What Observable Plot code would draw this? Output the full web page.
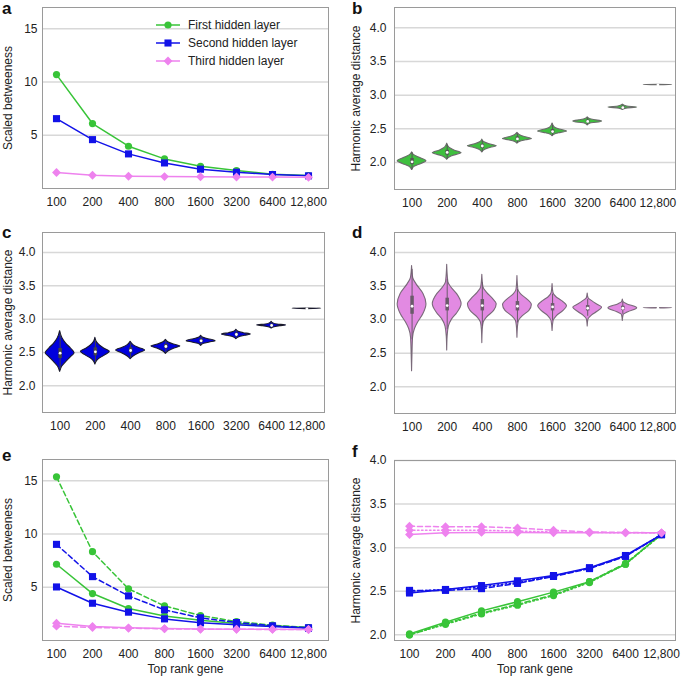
<!DOCTYPE html>
<html><head><meta charset="utf-8">
<script src="https://cdn.jsdelivr.net/npm/d3@7"></script>
<script src="https://cdn.jsdelivr.net/npm/@observablehq/plot@0.6"></script>
<style>
body{margin:0;background:#fff;font-family:"Liberation Sans",Arial,sans-serif;}
#fig{position:relative;width:681px;height:676px;overflow:hidden;background:#fff}
.panel{position:absolute}
.plet{position:absolute;font-weight:bold;font-size:17px;line-height:1;color:#111}
#legend{position:absolute;left:155px;top:16px;font-size:12px;color:#222}
#legend div{height:18px;display:flex;align-items:center}
#legend svg{margin-right:7px}
</style></head><body><div id="fig"></div>
<script>
// ---------- data ----------
const ranks = ["100","200","400","800","1600","3200","6400","12,800"];
const layers = ["First hidden layer","Second hidden layer","Third hidden layer"];

// panel a: scaled betweeness
const aFirst  = [10.7, 6.1, 3.97, 2.78, 2.09, 1.69, 1.34, 1.22];
const aSecond = [6.56, 4.59, 3.25, 2.40, 1.81, 1.53, 1.31, 1.19];
const aThird  = [1.50, 1.25, 1.15, 1.12, 1.10, 1.08, 1.07, 1.05];

// panel e: scaled betweeness (solid / dashed)
const eFirstSolid   = [7.16, 4.41, 3.00, 2.31, 1.90, 1.60, 1.38, 1.22];
const eFirstDashed  = [15.37, 8.34, 4.85, 3.25, 2.35, 1.78, 1.44, 1.22];
const eSecondSolid  = [5.03, 3.50, 2.66, 2.03, 1.66, 1.47, 1.31, 1.16];
const eSecondDashed = [9.03, 6.00, 4.19, 2.88, 2.13, 1.69, 1.38, 1.19];
const eThirdSolid   = [1.63, 1.31, 1.19, 1.12, 1.08, 1.06, 1.05, 1.03];
const eThirdDashed  = [1.35, 1.22, 1.15, 1.10, 1.06, 1.05, 1.04, 1.03];

// panel f: harmonic average distance (solid / dashed / dotted)
const fFirstSolid   = [2.01, 2.145, 2.275, 2.38, 2.49, 2.61, 2.81, 3.16];
const fFirstDashed  = [2.00, 2.13, 2.25, 2.35, 2.46, 2.61, 2.82, 3.15];
const fFirstDotted  = [2.00, 2.12, 2.24, 2.34, 2.45, 2.60, 2.81, 3.15];
const fSecondSolid  = [2.48, 2.52, 2.565, 2.62, 2.68, 2.77, 2.91, 3.15];
const fSecondDashed = [2.51, 2.51, 2.53, 2.59, 2.67, 2.76, 2.90, 3.15];
const fSecondDotted = [2.50, 2.52, 2.55, 2.60, 2.675, 2.765, 2.905, 3.15];
const fThirdSolid   = [3.15, 3.17, 3.175, 3.175, 3.17, 3.17, 3.17, 3.17];
const fThirdDashed  = [3.245, 3.24, 3.24, 3.225, 3.20, 3.18, 3.175, 3.17];
const fThirdDotted  = [3.20, 3.20, 3.20, 3.19, 3.18, 3.175, 3.17, 3.17];

// violin profiles: [value, relative density]
const bProfiles = [
  [[1.89,0],[1.94,0.2],[1.98,0.65],[2.02,1],[2.07,0.53],[2.11,0.15],[2.15,0]],
  [[2.04,0],[2.08,0.2],[2.11,0.6],[2.14,1],[2.18,0.5],[2.22,0.15],[2.28,0]],
  [[2.15,0],[2.19,0.2],[2.22,0.6],[2.24,1],[2.27,0.5],[2.30,0.15],[2.34,0]],
  [[2.28,0],[2.31,0.2],[2.33,0.6],[2.35,1],[2.38,0.5],[2.41,0.15],[2.44,0]],
  [[2.39,0],[2.42,0.2],[2.44,0.6],[2.46,1],[2.49,0.5],[2.52,0.15],[2.58,0]],
  [[2.55,0],[2.58,0.2],[2.59,0.6],[2.61,1],[2.63,0.45],[2.65,0.12],[2.67,0]],
  [[2.78,0],[2.80,0.25],[2.815,1],[2.83,0.3],[2.86,0]],
  [[3.146,0],[3.15,1],[3.154,0]]
];
const cProfiles = [
  [[2.21,0],[2.29,0.15],[2.36,0.43],[2.43,0.75],[2.49,1],[2.56,0.75],[2.63,0.43],[2.71,0.17],[2.82,0]],
  [[2.32,0],[2.36,0.08],[2.40,0.25],[2.46,0.7],[2.51,1],[2.56,0.6],[2.63,0.2],[2.67,0.07],[2.72,0]],
  [[2.40,0],[2.44,0.2],[2.49,0.6],[2.53,1],[2.57,0.55],[2.61,0.2],[2.66,0]],
  [[2.48,0],[2.52,0.2],[2.56,0.6],[2.59,1],[2.62,0.55],[2.65,0.2],[2.69,0]],
  [[2.60,0],[2.63,0.2],[2.65,0.6],[2.67,1],[2.70,0.5],[2.72,0.15],[2.75,0]],
  [[2.70,0],[2.73,0.2],[2.75,0.6],[2.77,1],[2.79,0.5],[2.81,0.15],[2.84,0]],
  [[2.86,0],[2.88,0.2],[2.895,0.6],[2.905,1],[2.92,0.4],[2.94,0.1],[2.96,0]],
  [[3.151,0],[3.155,1],[3.159,0]]
];
const dProfiles = [
  [[2.23,0],[2.50,0.03],[2.73,0.07],[2.86,0.2],[2.96,0.43],[3.08,0.78],[3.23,1],[3.38,0.8],[3.53,0.3],[3.62,0.08],[3.80,0]],
  [[2.54,0],[2.75,0.03],[2.90,0.12],[3.00,0.33],[3.10,0.71],[3.23,1],[3.38,0.69],[3.48,0.29],[3.56,0.08],[3.82,0]],
  [[2.65,0],[2.85,0.03],[2.96,0.1],[3.03,0.32],[3.13,0.82],[3.23,1],[3.30,0.78],[3.40,0.33],[3.48,0.08],[3.67,0]],
  [[2.73,0],[2.90,0.04],[2.98,0.1],[3.05,0.36],[3.13,0.83],[3.22,1],[3.30,0.7],[3.38,0.24],[3.45,0.06],[3.65,0]],
  [[2.83,0],[2.98,0.07],[3.05,0.29],[3.13,0.76],[3.20,1],[3.28,0.64],[3.33,0.29],[3.40,0.06],[3.53,0]],
  [[2.90,0],[3.00,0.05],[3.06,0.29],[3.11,0.63],[3.18,1],[3.23,0.63],[3.28,0.29],[3.32,0.06],[3.39,0]],
  [[2.98,0],[3.07,0.06],[3.11,0.38],[3.17,1],[3.23,0.29],[3.26,0.06],[3.30,0]],
  [[3.166,0],[3.17,1],[3.174,0]]
];
// inner boxes: [q1, median, q3, whisker low, whisker high]
const bBoxes = [[1.97,2.01,2.06,1.89,2.15],[2.11,2.15,2.18,2.05,2.26],[2.21,2.245,2.27,2.16,2.32],[2.33,2.35,2.38,2.29,2.42],
                [2.43,2.46,2.49,2.40,2.55],[2.59,2.61,2.63,2.56,2.66],[2.80,2.815,2.83,2.79,2.85],[3.148,3.15,3.152,3.146,3.154]];
const cBoxes = [[2.41,2.49,2.56,2.25,2.78],[2.45,2.51,2.57,2.35,2.68],[2.49,2.53,2.57,2.42,2.63],[2.56,2.59,2.62,2.50,2.67],
                [2.65,2.675,2.70,2.62,2.73],[2.75,2.77,2.79,2.72,2.82],[2.89,2.905,2.92,2.87,2.94],[3.153,3.155,3.157,3.151,3.159]];
const dBoxes = [[3.08,3.20,3.35,2.70,3.75],[3.13,3.21,3.32,2.85,3.60],[3.13,3.21,3.30,2.90,3.55],[3.13,3.20,3.27,2.95,3.45],
                [3.13,3.19,3.24,2.98,3.38],[3.13,3.17,3.21,3.05,3.30],[3.14,3.17,3.20,3.08,3.26],[3.165,3.17,3.175,3.166,3.174]];

const betweenTicks = [5, 10, 15];
const distTicks = [2.0, 2.5, 3.0, 3.5, 4.0];

// ---------- styling ----------
const COLORS = ["#38c438", "#1212e8", "#ee82ee"];
const SYMBOLS = ["circle", "square", "diamond2"];
const DOT_R = [3.6, 4.0, 4.0];
const DASH = {solid: null, dashed: "5,3", dotted: "1.5,2.5"};
const FONT = "'Liberation Sans', Arial, sans-serif";
const GRID = "#d8d8d8";
const FRAME = "#9a9a9a";
const fig = document.getElementById("fig");

function place(node, left, top) {
  const wrap = document.createElement("div");
  wrap.className = "panel";
  wrap.style.left = left + "px";
  wrap.style.top = top + "px";
  wrap.appendChild(node);
  fig.appendChild(wrap);
}
function letter(t, left, top) {
  const d = document.createElement("div");
  d.className = "plet"; d.textContent = t;
  d.style.left = left + "px"; d.style.top = top + "px";
  fig.appendChild(d);
}

function linePlot(cfg) {
  const rows = cfg.series.flatMap(([k, style, values]) =>
    values.map((v, i) => ({rank: ranks[i], layer: layers[k], k, style, v})));
  const marks = [
    Plot.gridY(cfg.yTicks, {stroke: GRID, strokeOpacity: 1, strokeWidth: 1.5}),
    Plot.frame({stroke: FRAME})
  ];
  for (const k of [0, 1, 2]) {
    for (const style of ["dotted", "dashed", "solid"]) {
      const sub = rows.filter(d => d.k === k && d.style === style);
      if (!sub.length) continue;
      marks.push(Plot.line(sub, {x: "rank", y: "v", stroke: "layer", strokeWidth: 1.5, strokeDasharray: DASH[style]}));
      marks.push(Plot.dot(sub, {x: "rank", y: "v", fill: "layer", symbol: "layer", r: DOT_R[k], stroke: "none"}));
    }
  }
  return Plot.plot({
    width: cfg.width, height: cfg.height,
    marginLeft: cfg.ml, marginRight: cfg.mr, marginTop: cfg.mt, marginBottom: cfg.mb,
    style: {fontFamily: FONT, fontSize: "12px", color: "#222", background: "white"},
    x: {type: "point", domain: ranks, padding: cfg.pad, align: cfg.align, tickSize: 0, tickPadding: 9, label: cfg.xlabel || null,
        labelAnchor: "center", labelOffset: 32, labelArrow: false},
    y: {domain: cfg.yDomain, ticks: cfg.yTicks, tickFormat: cfg.yFormat, tickSize: 0, tickPadding: cfg.tp,
        label: cfg.ylabel || null, labelAnchor: "center", labelOffset: cfg.lo, labelArrow: false},
    color: {domain: layers, range: COLORS},
    symbol: {domain: layers, range: SYMBOLS},
    marks
  });
}

const HALF = 0.41;
function violinPlot(cfg) {
  const rows = cfg.profiles.flatMap((p, i) => p.map(([v, w]) => ({i, v, w})));
  const boxes = cfg.boxes.map(([q1, med, q3, lo, hi], i) => ({i, q1, med, q3, lo, hi}));
  return Plot.plot({
    width: cfg.width, height: cfg.height,
    marginLeft: cfg.ml, marginRight: cfg.mr, marginTop: cfg.mt, marginBottom: cfg.mb,
    style: {fontFamily: FONT, fontSize: "12px", color: "#222", background: "white"},
    x: {domain: [-0.5, 7.5], ticks: ranks.map((_, i) => i), tickFormat: i => ranks[i], tickSize: 0, tickPadding: 9, label: null},
    y: {domain: [1.6, 4.3], ticks: distTicks, tickFormat: d3.format(".1f"), tickSize: 0, tickPadding: cfg.tp,
        label: cfg.ylabel || null, labelAnchor: "center", labelOffset: cfg.lo, labelArrow: false},
    marks: [
      Plot.gridY(distTicks, {stroke: GRID, strokeOpacity: 1, strokeWidth: 1.5}),
      Plot.frame({stroke: FRAME}),
      Plot.areaX(rows, {y: "v", x1: d => d.i - d.w * HALF, x2: d => d.i + d.w * HALF, z: "i",
        fill: cfg.fill, stroke: cfg.stroke, strokeWidth: 1.1, curve: "monotone-y"}),
      Plot.ruleX(boxes, {x: "i", y1: "lo", y2: "hi", stroke: cfg.box, strokeWidth: 1}),
      Plot.ruleX(boxes, {x: "i", y1: "q1", y2: "q3", stroke: cfg.box, strokeWidth: 3.5}),
      Plot.dot(boxes, {x: "i", y: "med", r: 1.4, fill: "white", stroke: "none"})
    ]
  });
}

// ---------- panels ----------
place(linePlot({
  width: 340, height: 215, ml: 42, mr: 12, mt: 7, mb: 27, tp: 5, lo: 39, pad: 0.4, align: 0.42,
  yDomain: [0, 17], yTicks: betweenTicks, yFormat: d3.format("d"), ylabel: "Scaled betweeness",
  series: [[0, "solid", aFirst], [1, "solid", aSecond], [2, "solid", aThird]]
}), 0, 0);

place(violinPlot({
  width: 341, height: 215, ml: 54, mr: 6, mt: 7, mb: 26, tp: 8, lo: 43,
  ylabel: "Harmonic average distance", profiles: bProfiles, boxes: bBoxes,
  fill: "#3fbf3f", stroke: "#6a6a6a", box: "#555"
}), 340, 0);

place(violinPlot({
  width: 340, height: 215, ml: 42, mr: 16, mt: 12, mb: 23, tp: 7, lo: 39,
  ylabel: "Harmonic average distance", profiles: cProfiles, boxes: cBoxes,
  fill: "#0000dd", stroke: "#1a1a2a", box: "#444"
}), 0, 220);

place(violinPlot({
  width: 341, height: 215, ml: 54, mr: 6, mt: 12, mb: 22, tp: 8, lo: 43,
  ylabel: null, profiles: dProfiles, boxes: dBoxes,
  fill: "#e28ae2", stroke: "#7a6a7a", box: "#6a5a6a"
}), 340, 220);

place(linePlot({
  width: 340, height: 236, ml: 42, mr: 12, mt: 19, mb: 36, tp: 5, lo: 39, pad: 0.4, align: 0.42,
  yDomain: [0, 17], yTicks: betweenTicks, yFormat: d3.format("d"), ylabel: "Scaled betweeness", xlabel: "Top rank gene",
  series: [[0, "solid", eFirstSolid], [0, "dashed", eFirstDashed],
           [1, "solid", eSecondSolid], [1, "dashed", eSecondDashed],
           [2, "solid", eThirdSolid], [2, "dashed", eThirdDashed]]
}), 0, 440);

place(linePlot({
  width: 341, height: 236, ml: 54, mr: 6, mt: 20, mb: 36, tp: 8, lo: 43, pad: 0.33, align: 0.5,
  yDomain: [1.935, 4.0], yTicks: distTicks, yFormat: d3.format(".1f"), ylabel: "Harmonic average distance", xlabel: "Top rank gene",
  series: [[0, "solid", fFirstSolid], [0, "dashed", fFirstDashed], [0, "dotted", fFirstDotted],
           [1, "solid", fSecondSolid], [1, "dashed", fSecondDashed], [1, "dotted", fSecondDotted],
           [2, "solid", fThirdSolid], [2, "dashed", fThirdDashed], [2, "dotted", fThirdDotted]]
}), 340, 440);

// panel letters
letter("a", 2, 0); letter("b", 352, 0);
letter("c", 2, 224); letter("d", 352, 224);
letter("e", 2, 447); letter("f", 352, 443);

// legend for panel a
const legend = document.createElement("div");
legend.id = "legend";
const symPath = [d3.symbolCircle, d3.symbolSquare, d3.symbolDiamond2];
layers.forEach((name, k) => {
  const row = document.createElement("div");
  const size = Math.PI * DOT_R[k] * DOT_R[k];
  row.innerHTML = `<svg width="26" height="12"><line x1="1" x2="25" y1="6" y2="6" stroke="${COLORS[k]}" stroke-width="1.5"/>` +
    `<path transform="translate(13,6)" d="${d3.symbol(symPath[k], size)()}" fill="${COLORS[k]}"/></svg><span>${name}</span>`;
  legend.appendChild(row);
});
fig.appendChild(legend);
</script></body></html>
